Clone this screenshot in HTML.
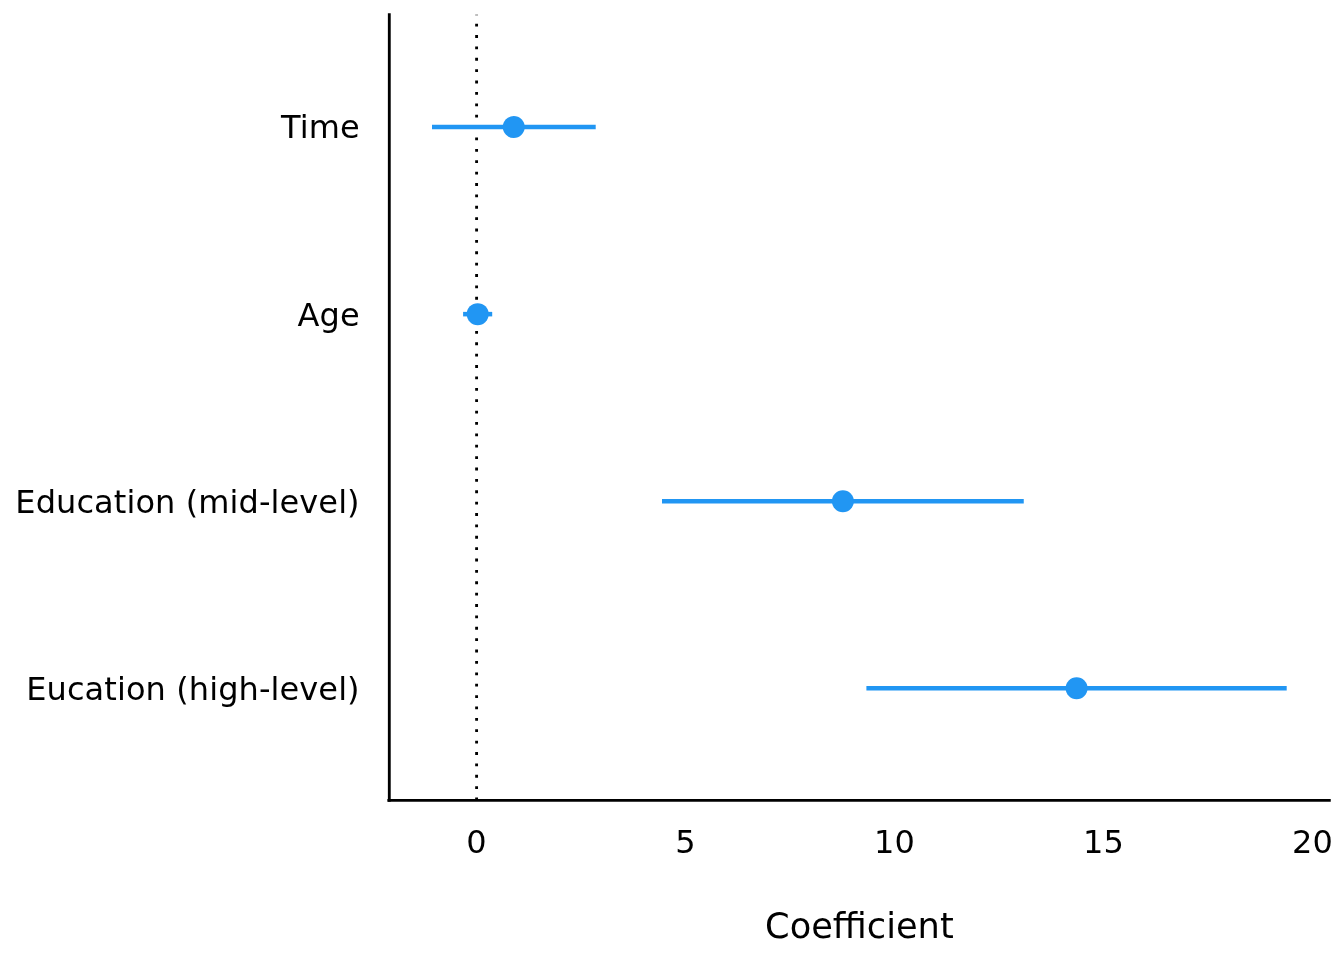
<!DOCTYPE html>
<html lang="en">
<head>
<meta charset="utf-8">
<title>Coefficient plot</title>
<style>
html,body{margin:0;padding:0;background:#fff;}
body{width:1344px;height:960px;overflow:hidden;}
svg{display:block;}
text{font-family:"DejaVu Sans","Liberation Sans",sans-serif;fill:#000;}
.ax{font-size:32.0px;}
.yl{letter-spacing:0.09px;}
.ti{font-size:35.2px;}
</style>
</head>
<body>
<svg width="1344" height="960" viewBox="0 0 1344 960">
<rect width="1344" height="960" fill="#ffffff"/>
<line x1="476.60" y1="800.40" x2="476.60" y2="14.67" stroke="#000" stroke-width="2.845" stroke-dasharray="2.845 8.535"/>
<line x1="432.00" y1="127.04" x2="595.70" y2="127.04" stroke="#2196F3" stroke-width="4.55"/>
<circle cx="513.75" cy="127.04" r="11.00" fill="#2196F3"/>
<line x1="463.10" y1="314.14" x2="492.20" y2="314.14" stroke="#2196F3" stroke-width="4.55"/>
<circle cx="477.70" cy="314.14" r="11.00" fill="#2196F3"/>
<line x1="662.00" y1="501.24" x2="1023.75" y2="501.24" stroke="#2196F3" stroke-width="4.55"/>
<circle cx="842.90" cy="501.24" r="11.00" fill="#2196F3"/>
<line x1="866.40" y1="688.34" x2="1286.70" y2="688.34" stroke="#2196F3" stroke-width="4.55"/>
<circle cx="1076.60" cy="688.34" r="11.00" fill="#2196F3"/>
<path d="M389.30 14.67 V800.40" fill="none" stroke="#000" stroke-width="2.845" stroke-linecap="square"/>
<path d="M388.80 800.40 H1329.33" fill="none" stroke="#000" stroke-width="2.845" stroke-linecap="square"/>
<text class="ax yl" x="359.7" y="138.20" text-anchor="end">Time</text>
<text class="ax yl" x="359.7" y="326.40" text-anchor="end">Age</text>
<text class="ax yl" x="359.7" y="512.54" text-anchor="end">Education (mid-level)</text>
<text class="ax yl" x="359.7" y="699.64" text-anchor="end">Eucation (high-level)</text>
<text class="ax" x="476.40" y="852.7" text-anchor="middle">0</text>
<text class="ax" x="685.40" y="852.7" text-anchor="middle">5</text>
<text class="ax" x="894.40" y="852.7" text-anchor="middle">10</text>
<text class="ax" x="1103.40" y="852.7" text-anchor="middle">15</text>
<text class="ax" x="1312.40" y="852.7" text-anchor="middle">20</text>
<text class="ti" x="859.4" y="937.7" text-anchor="middle">Coefficient</text>
</svg>
</body>
</html>
